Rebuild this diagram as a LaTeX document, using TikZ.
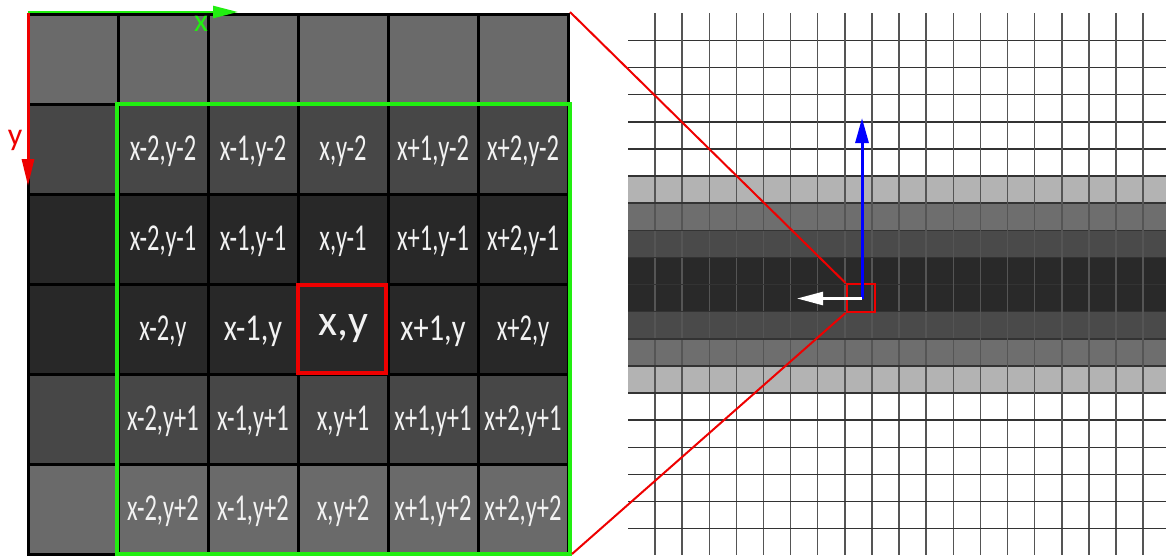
\documentclass[tikz,border=0pt]{standalone}
\usepackage{fontspec}
\setmainfont{Carlito}
\usetikzlibrary{arrows.meta}
\definecolor{tileA}{HTML}{6A6A6A}
\definecolor{tileB}{HTML}{474747}
\definecolor{tileC}{HTML}{282828}
\definecolor{bandA}{HTML}{B3B3B3}
\definecolor{bandB}{HTML}{6E6E6E}
\definecolor{bandC}{HTML}{4A4A4A}
\definecolor{bandD}{HTML}{292929}
\definecolor{gridH}{HTML}{333333}
\definecolor{gridV}{HTML}{555555}
\definecolor{axgreen}{HTML}{22EE11}
\definecolor{axred}{HTML}{EE0000}
\definecolor{txt}{HTML}{F2F2F2}
\newcommand{\nl}[1]{\scalebox{0.645}[1]{#1}}
\newcommand{\wl}[1]{\scalebox{0.8}[1]{#1}}
\begin{document}
\begin{tikzpicture}[x=1pt,y=-1pt,
  tile/.style={draw=black,line width=3pt,minimum size=90pt,inner sep=0pt},
  lbl/.style={text=txt,font=\fontsize{38}{40}\selectfont,inner sep=0pt},
  zoomline/.style={draw=axred,line width=2pt},
  vline/.style={draw=gridV,line width=1.5pt},
  hline/.style={draw=gridH,line width=1.5pt}]
\useasboundingbox (0,0) rectangle (1166,558);
% ---------- left tile grid ----------
\foreach \r/\col in {0/tileA,1/tileB,2/tileC,3/tileC,4/tileB,5/tileA}{
  \foreach \c in {0,...,5}{
    \node[tile,fill=\col] (t-\c-\r) at ({73+90*\c},{59+90*\r}) {};
  }
}
% labels
\foreach \c/\dx in {1/x-2,2/x-1,3/x,4/x+1,5/x+2}{
  \node[lbl] (l-\c-1) at ([yshift=-2pt]t-\c-1) {\nl{\dx,y-2}};
  \node[lbl] (l-\c-2) at ([yshift=-2pt]t-\c-2) {\nl{\dx,y-1}};
  \node[lbl] (l-\c-4) at ([yshift=-2pt]t-\c-4) {\nl{\dx,y+1}};
  \node[lbl] (l-\c-5) at ([yshift=-2pt]t-\c-5) {\nl{\dx,y+2}};
}
\node[lbl] (l-1-3) at ([yshift=-2pt]t-1-3) {\nl{x-2,y}};
\node[lbl] (l-2-3) at ([yshift=-2pt]t-2-3) {\wl{x-1,y}};
\node[lbl,font=\fontsize{44}{46}\selectfont] (l-3-3) at (t-3-3) {x,y};
\node[lbl] (l-4-3) at ([yshift=-2pt]t-4-3) {\wl{x+1,y}};
\node[lbl] (l-5-3) at ([yshift=-2pt]t-5-3) {\nl{x+2,y}};
% green window and red centre
\node[draw=axgreen,line width=4pt,minimum width=453pt,minimum height=450pt,inner sep=0pt] (win) at (343.5,329) {};
\node[draw=axred,line width=4pt,minimum size=88pt,inner sep=0pt] (ctr) at (342,329) {};
% axes
\coordinate (org) at (28,12);
\coordinate (xend) at (238,12);
\coordinate (yend) at (28,186);
\draw[axgreen,line width=2.5pt,-{Triangle[length=25pt,width=12pt]}] (org) -- (xend);
\draw[axred,line width=3pt,-{Triangle[length=27pt,width=12pt]}] ([yshift=-1pt]org) -- (yend);
\node[text=axgreen,font=\fontsize{32}{34}\selectfont,inner sep=0pt] (xl) at (201,24) {x};
\node[text=axred,font=\fontsize{32}{34}\selectfont,inner sep=0pt] (yl) at (15,140) {y};
% ---------- right magnified grid ----------
\foreach \k/\col in {5/bandA,6/bandB,7/bandC,8/bandD,9/bandD,10/bandC,11/bandB,12/bandA}{
  \fill[\col] (628,{40.5+27.12*\k}) rectangle (1166,{40.5+27.12*(\k+1)});
}
\foreach \k in {0,...,18}{
  \draw[vline] ({655+27.12*\k},13) -- ({655+27.12*\k},555);
  \draw[hline] (628,{40.5+27.12*\k}) -- (1166,{40.5+27.12*\k});
}
\node[draw=axred,line width=2pt,minimum size=28pt,inner sep=0pt] (sq) at (860.5,298) {};
\coordinate (gtr) at (570,12);
\coordinate (gbr) at (572,554);
\draw[zoomline] (gtr) -- (sq.north west);
\draw[zoomline] (gbr) -- (sq.south west);
\coordinate (pix) at (862,298.5);
\coordinate (upend) at (862,118);
\coordinate (leftend) at (797,298.5);
\draw[blue,line width=3pt,-{Triangle[length=25pt,width=13pt]}] (pix) -- (upend);
\draw[white,line width=2.5pt,-{Triangle[length=26pt,width=13pt]}] (pix) -- (leftend);
\end{tikzpicture}
\end{document}
